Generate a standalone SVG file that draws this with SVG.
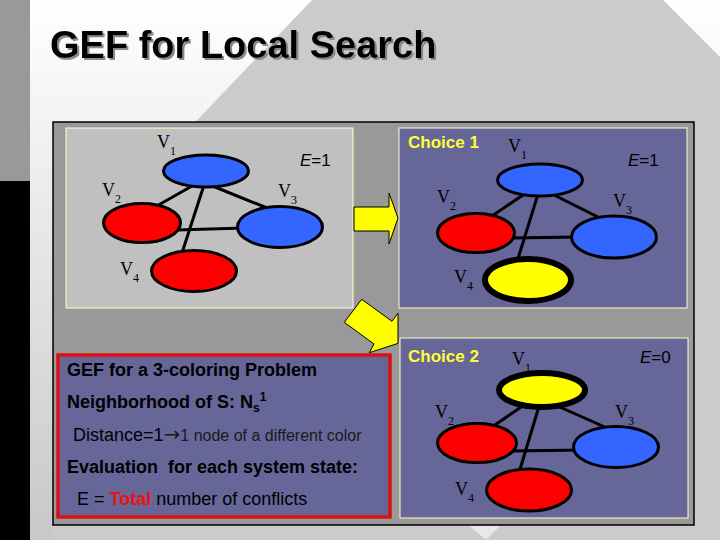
<svg xmlns="http://www.w3.org/2000/svg" width="720" height="540" viewBox="0 0 720 540">
<defs>
<linearGradient id="bg" x1="0" y1="0" x2="0" y2="1">
<stop offset="0" stop-color="#ffffff"/>
<stop offset="1" stop-color="#c8c8c8"/>
</linearGradient>
<filter id="shadow" x="-5%" y="-20%" width="110%" height="150%">
<feDropShadow dx="2" dy="2" stdDeviation="0.3" flood-color="#888888" flood-opacity="1"/>
</filter>
<style>
.panel{stroke:#ffffcc;stroke-width:1}
.edge{stroke:#000;stroke-width:3;fill:none}
.node{stroke:#000;stroke-width:3}
.hot{stroke:#000;stroke-width:6;fill:#ffff00}
.blue{fill:#3366ff}
.red{fill:#ff0000}
.lbl{font-family:"Liberation Serif","Times New Roman",serif;font-size:18px;fill:#000}
.sub{font-size:12px}
.ev{font-family:"Liberation Sans",Arial,sans-serif;font-size:17px;fill:#000}
.choice{font-family:"Liberation Sans",Arial,sans-serif;font-size:17px;font-weight:bold;fill:#ffff33}
.txt{font-family:"Liberation Sans",Arial,sans-serif;font-size:18px;fill:#000}
.b{font-weight:bold}
.arrow{fill:#ffff00;stroke:#000;stroke-width:1}
</style>
</defs>
<!-- background -->
<rect x="0" y="0" width="720" height="540" fill="url(#bg)"/>
<polygon points="312,0 663,0 720,57 720,540 53,540 53,271" fill="#cbcbcb"/>
<polygon points="470,526 500,526 486,540" fill="#e8e8e8"/>
<rect x="0" y="0" width="30" height="181" fill="#999999"/>
<rect x="0" y="181" width="30" height="359" fill="#000000"/>
<!-- title -->
<text x="50" y="58" font-family="'Liberation Sans',Arial,sans-serif" font-size="38" font-weight="bold" fill="#000" filter="url(#shadow)">GEF for Local Search</text>
<!-- frame -->
<rect x="53" y="122" width="641" height="403" fill="#999999" stroke="#000" stroke-width="1.5"/>
<rect class="panel" x="66" y="128" width="287" height="180" fill="#c0c0c0"/>
<rect class="panel" x="399" y="128" width="288" height="180" fill="#666699"/>
<rect class="panel" x="400" y="338" width="288" height="180" fill="#666699"/>
<rect x="58" y="355" width="332" height="162" fill="#666699" stroke="#dd1111" stroke-width="3.5"/>
<!-- arrows -->
<g id="arrow1"><polygon class="arrow" points="354,207 389,207 389,193 398,218 389,244 389,231 354,231"/></g>
<g id="arrow2"><polygon class="arrow" points="361.7,299.3 392,321.3 398,313.2 398,343.4 369.3,352.7 374,344 344.3,322.3"/></g>
<!-- connectors -->
<g id="connectors">
<line class="edge" x1="192" y1="186" x2="155" y2="207"/>
<line class="edge" x1="215" y1="187" x2="272" y2="210"/>
<line class="edge" x1="205" y1="182" x2="181" y2="256"/>
<line class="edge" x1="176" y1="230" x2="244" y2="228"/>
<line class="edge" x1="526" y1="193" x2="489" y2="218"/>
<line class="edge" x1="550" y1="193" x2="606" y2="221"/>
<line class="edge" x1="539" y1="191" x2="516" y2="265"/>
<line class="edge" x1="505" y1="238" x2="580" y2="237"/>
<line class="edge" x1="527" y1="403" x2="489" y2="429"/>
<line class="edge" x1="553" y1="404" x2="607" y2="428"/>
<line class="edge" x1="540" y1="403" x2="518" y2="476"/>
<line class="edge" x1="505" y1="451" x2="584" y2="450"/>
</g>
<!-- graph A -->
<g id="a-v1"><ellipse class="node blue" cx="206" cy="171" rx="42.5" ry="16"/><text class="lbl" x="157" y="148">V<tspan class="sub" dy="7">1</tspan></text></g>
<g id="a-v2"><ellipse class="node red" cx="142" cy="223" rx="38.5" ry="19.5"/><text class="lbl" x="102" y="196">V<tspan class="sub" dy="7">2</tspan></text></g>
<g id="a-v3"><ellipse class="node blue" cx="280" cy="227" rx="42.5" ry="20.5"/><text class="lbl" x="278" y="197">V<tspan class="sub" dy="7">3</tspan></text></g>
<g id="a-v4"><ellipse class="node red" cx="194" cy="271" rx="42.5" ry="20.5"/><text class="lbl" x="120" y="275">V<tspan class="sub" dy="7">4</tspan></text></g>
<text class="ev" x="300" y="166"><tspan font-style="italic">E</tspan>=1</text>
<!-- graph B -->
<text class="choice" x="408" y="148">Choice 1</text>
<g id="b-v1"><ellipse class="node blue" cx="540" cy="180" rx="42.5" ry="16"/><text class="lbl" x="508" y="152">V<tspan class="sub" dy="7">1</tspan></text></g>
<g id="b-v2"><ellipse class="node red" cx="476" cy="233" rx="38.5" ry="19.5"/><text class="lbl" x="437" y="203">V<tspan class="sub" dy="7">2</tspan></text></g>
<g id="b-v3"><ellipse class="node blue" cx="614" cy="237" rx="42.5" ry="21"/><text class="lbl" x="613" y="207">V<tspan class="sub" dy="7">3</tspan></text></g>
<g id="b-v4"><ellipse class="hot" cx="528" cy="280" rx="43" ry="21"/><text class="lbl" x="454" y="283">V<tspan class="sub" dy="7">4</tspan></text></g>
<text class="ev" x="628" y="166"><tspan font-style="italic">E</tspan>=1</text>
<!-- graph C -->
<text class="choice" x="408" y="362">Choice 2</text>
<g id="c-v1"><ellipse class="hot" cx="542" cy="390" rx="43" ry="17"/><text class="lbl" x="512" y="365">V<tspan class="sub" dy="7">1</tspan></text></g>
<g id="c-v2"><ellipse class="node red" cx="477" cy="443" rx="39.5" ry="19.5"/><text class="lbl" x="435" y="418">V<tspan class="sub" dy="7">2</tspan></text></g>
<g id="c-v3"><ellipse class="node blue" cx="616" cy="447" rx="42.5" ry="20.5"/><text class="lbl" x="615" y="418">V<tspan class="sub" dy="7">3</tspan></text></g>
<g id="c-v4"><ellipse class="node red" cx="529" cy="490" rx="42.5" ry="21"/><text class="lbl" x="455" y="495">V<tspan class="sub" dy="7">4</tspan></text></g>
<text class="ev" x="640" y="363"><tspan font-style="italic">E</tspan>=0</text>
<!-- text box -->
<g id="textbox">
<text class="txt b" x="67" y="376">GEF for a 3-coloring Problem</text>
<text class="txt b" x="67" y="408">Neighborhood of S: N<tspan font-size="12" dy="4">s</tspan><tspan font-size="12" dy="-11">1</tspan></text>
<text class="txt" x="73" y="441">Distance=1<tspan font-family="'DejaVu Sans',sans-serif" font-size="20" fill="#1a1a1a">→</tspan><tspan font-size="16" fill="#1a1a1a">1 node of a different color</tspan></text>
<text class="txt b" x="67" y="473" xml:space="preserve">Evaluation  for each system state:</text>
<text class="txt" x="77" y="505">E = <tspan class="b" fill="#ee1111">Total</tspan> number of conflicts</text>
</g>
</svg>
